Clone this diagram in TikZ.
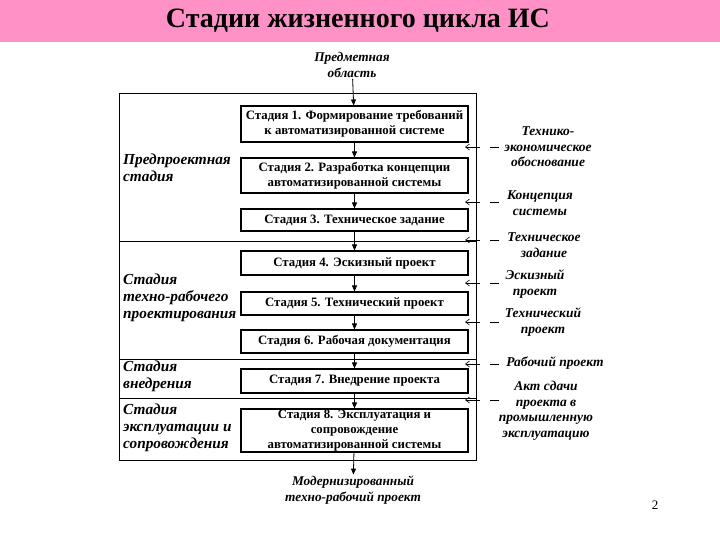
\documentclass[tikz,border=0pt]{standalone}
\usepackage{fontspec}
\setmainfont{Liberation Serif}
\usetikzlibrary{arrows.meta}
\definecolor{titlepink}{RGB}{255,145,198}
\begin{document}
\begin{tikzpicture}[x=1pt,y=-1pt,
  stagebox/.style={draw,line width=1.1pt,minimum width=227pt,inner sep=0.5pt,align=center,
    font=\fontsize{12.8}{15.3}\selectfont\bfseries},
  leftlab/.style={anchor=west,align=left,inner sep=0pt,font=\fontsize{15.3}{17}\selectfont\bfseries\itshape},
  rightlab/.style={align=center,inner sep=0pt,font=\fontsize{13.5}{15.5}\selectfont\bfseries\itshape},
  midlab/.style={align=center,inner sep=1pt,font=\fontsize{13.3}{16}\selectfont\bfseries\itshape},
  down/.style={-{Triangle[length=6pt,width=5pt]},line width=0.8pt},
  inarrow/.style={-{Straight Barb[length=4pt,width=6pt]},line width=0.6pt,dash pattern=on 9pt off 10pt on 16pt},
  frameline/.style={line width=0.8pt}]
\useasboundingbox (0,0) rectangle (720,540);
\fill[titlepink] (0,0) rectangle (720,42);
\node[font=\fontsize{28}{32}\selectfont\bfseries] (title) at (358,21) {Стадии жизненного цикла ИС};

% outer frame and dividers
\draw[frameline] (119,93) rectangle (476,460);
\draw[frameline] (119,241) -- (476,241);
\draw[frameline] (119,359) -- (476,359);
\draw[frameline] (119,398) -- (476,398);

% stage boxes
\node[stagebox,minimum height=36pt] (b1) at (354.5,124) {Стадия 1. Формирование требований\\к автоматизированной системе};
\node[stagebox,minimum height=35pt] (b2) at (354.5,175.5) {Стадия 2. Разработка концепции\\автоматизированной системы};
\node[stagebox,minimum height=22pt] (b3) at (354.5,220) {Стадия 3. Техническое задание};
\node[stagebox,minimum height=24pt] (b4) at (354.5,263) {Стадия 4. Эскизный проект};
\node[stagebox,minimum height=23pt] (b5) at (354.5,303.5) {Стадия 5. Технический проект};
\node[stagebox,minimum height=23pt] (b6) at (354.5,341.5) {Стадия 6. Рабочая документация};
\node[stagebox,minimum height=24pt] (b7) at (354.5,381) {Стадия 7. Внедрение проекта};
\node[stagebox,minimum height=43pt] (b8) at (354.5,430.5) {Стадия 8. Эксплуатация и\\сопровождение\\автоматизированной системы};

% top and bottom labels
\node[midlab] (top) at (352,65) {Предметная\\область};
\node[midlab] (bot) at (353,490) {Модернизированный\\техно-рабочий проект};

\draw[down] (top) -- (b1);
\draw[down] (b1) -- (b2);
\draw[down] (b2) -- (b3);
\draw[down] (b3) -- (b4);
\draw[down] (b4) -- (b5);
\draw[down] (b5) -- (b6);
\draw[down] (b6) -- (b7);
\draw[down] (b7) -- (b8);
\draw[down] (b8) -- (bot);

% left labels
\node[leftlab] (l1) at (123,168) {Предпроектная\\стадия};
\node[leftlab] (l2) at (123,298) {Стадия\\техно-рабочего\\проектирования};
\node[leftlab] (l3) at (123,376) {Стадия\\внедрения};
\node[leftlab] (l4) at (123,428) {Стадия\\эксплуатации и\\сопровождения};

% right labels
\node[rightlab] (r1) at (548,147) {Технико-\\экономическое\\обоснование};
\node[rightlab] (r2) at (540,203) {Концепция\\системы};
\node[rightlab] (r3) at (544,245) {Техническое\\задание};
\node[rightlab] (r4) at (535,284) {Эскизный\\проект};
\node[rightlab] (r5) at (543,322) {Технический\\проект};
\node[rightlab] (r6) at (555,363) {Рабочий проект};
\node[rightlab] (r7) at (546,411) {Акт сдачи\\проекта в\\промышленную\\эксплуатацию};

% incoming arrows
\foreach \i/\yy in {1/147,2/202,3/240,4/283,5/322,6/364,7/400}{
  \coordinate (s\i) at (499,\yy);
  \coordinate (e\i) at (465,\yy);
  \draw[inarrow] (s\i) -- (e\i);
}

\node[font=\fontsize{13}{15}\selectfont] (pg) at (655,505) {2};
\end{tikzpicture}
\end{document}
